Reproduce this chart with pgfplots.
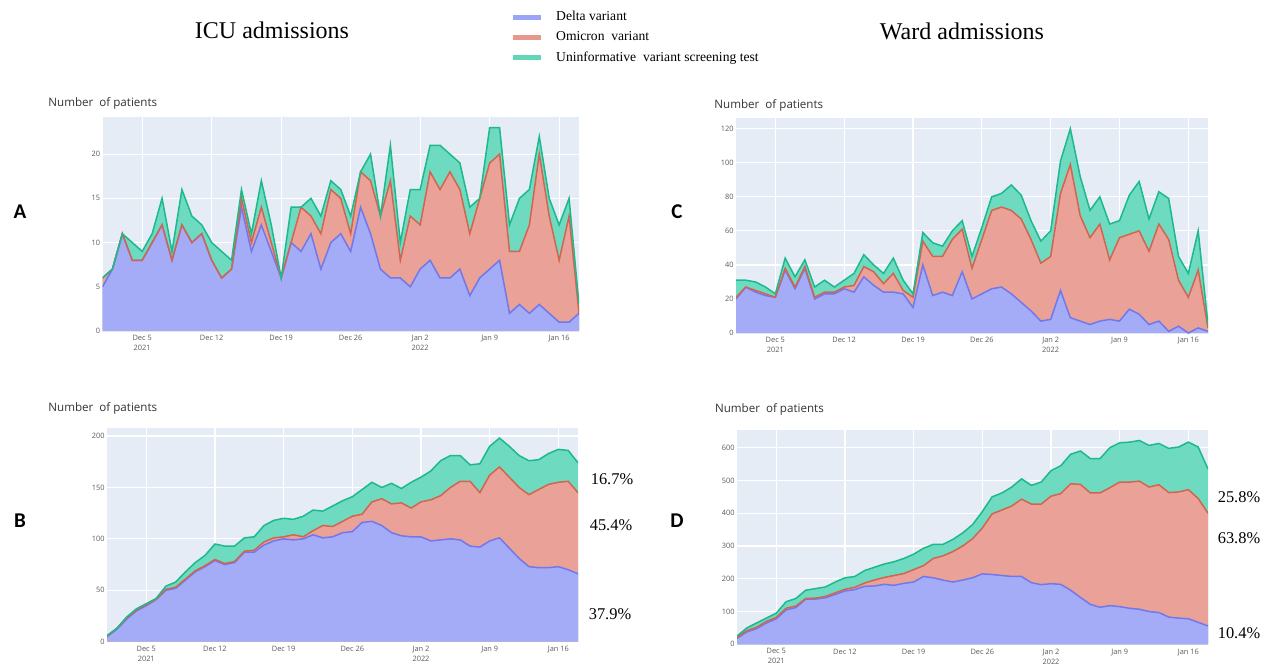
\documentclass[border=0pt]{standalone}
\usepackage{fontspec}
\setmainfont{Liberation Serif}
\newfontfamily\plotly{Open Sans}
\newfontfamily\letterfont{Carlito}
\usepackage{pgfplots}
\pgfplotsset{compat=1.18}
\usepackage{pgfplotstable}

\definecolor{plotbg}{HTML}{E5ECF6}
\definecolor{dfill}{HTML}{A4ACF7}
\definecolor{ofill}{HTML}{EAA197}
\definecolor{ufill}{HTML}{6EDBC0}
\definecolor{dline}{HTML}{7078EC}
\definecolor{oline}{HTML}{D3644F}
\definecolor{uline}{HTML}{1BB98C}
\definecolor{ticktext}{HTML}{5A5A5A}
\definecolor{titletext}{HTML}{333333}

% columns: day index (0 = Dec 1, 2021), Delta, Delta+Omicron, total
\pgfplotstableread{
d D DO T
0 5 6 6
1 7 7 7
2 11 11 11
3 8 8 10
4 8 8 9
5 10 10 11
6 12 12 15
7 8 8 9
8 12 12 16
9 10 10 13
10 11 11 12
11 8 8 10
12 6 6 9
13 7 7 8
14 14 15 16
15 9 10 11
16 12 14 17
17 9 10 12
18 6 6 6
19 10 10 14
20 9 14 14
21 11 13 15
22 7 11 13
23 10 16 17
24 11 15 16
25 9 11 13
26 14 18 18
27 11 17 20
28 7 13 13
29 6 17 21
30 6 8 10
31 5 13 16
32 7 12 16
33 8 18 21
34 6 16 21
35 6 18 20
36 7 16 19
37 4 11 14
38 6 15 15
39 7 19 23
40 8 20 23
41 2 9 12
42 3 9 15
43 2 12 16
44 3 20 22
45 2 13 15
46 1 8 12
47 1 13 15
48 2 2 3
}\tabA

\pgfplotstableread{
d D DO T
0 20 21 31
1 27 27 31
2 24 25 30
3 22 23 27
4 21 21 23
5 37 38 44
6 26 27 33
7 38 39 43
8 20 21 27
9 23 24 31
10 23 24 27
11 26 27 31
12 24 28 35
13 33 39 46
14 28 36 40
15 24 29 35
16 24 35 44
17 23 25 31
18 15 21 23
19 40 54 59
20 22 45 53
21 24 45 51
22 22 55 60
23 36 61 66
24 20 38 45
25 23 55 62
26 26 72 80
27 27 74 82
28 23 72 87
29 18 67 81
30 13 55 66
31 7 41 54
32 8 45 60
33 25 82 101
34 9 99 120
35 7 69 92
36 5 56 72
37 7 64 80
38 8 43 64
39 7 56 66
40 14 58 81
41 11 60 89
42 5 48 67
43 7 64 83
44 1 55 79
45 4 31 45
46 0 21 35
47 3 37 60
48 1 3 5
}\tabC

\pgfplotstableread{
d D DO T
0 5 5 6
1 12 13 13
2 22 23 24
3 30 31 32
4 35 36 37
5 41 41 42
6 50 51 54
7 52 53 58
8 60 61 68
9 68 69 77
10 73 74 84
11 79 80 95
12 75 76 93
13 77 78 93
14 87 88 101
15 87 89 102
16 94 97 113
17 98 101 118
18 100 102 120
19 99 104 119
20 100 102 122
21 104 108 128
22 101 113 127
23 102 112 132
24 106 117 137
25 107 122 141
26 116 124 148
27 117 136 155
28 113 139 150
29 106 134 154
30 103 135 149
31 102 130 155
32 102 136 160
33 98 138 166
34 99 142 176
35 100 150 181
36 99 156 181
37 93 156 172
38 92 145 173
39 98 162 190
40 101 170 198
41 91 160 190
42 81 150 181
43 73 143 176
44 72 148 177
45 72 153 183
46 73 155 187
47 70 156 186
48 66 145 174
}\tabB

\pgfplotstableread{
d D DO T
0 18 20 25
1 38 42 50
2 48 52 65
3 65 70 80
4 78 82 95
5 105 110 130
6 112 117 140
7 138 140 165
8 138 141 170
9 142 146 175
10 152 157 190
11 163 168 203
12 167 174 207
13 177 187 225
14 178 196 235
15 183 204 245
16 180 210 252
17 186 216 262
18 190 228 275
19 207 240 293
20 203 262 305
21 196 270 305
22 190 283 320
23 196 300 340
24 203 322 365
25 215 355 405
26 213 398 450
27 210 410 462
28 207 422 480
29 207 443 505
30 188 428 485
31 182 428 495
32 185 452 530
33 183 460 545
34 165 490 580
35 143 488 590
36 122 462 567
37 113 462 567
38 118 478 600
39 115 495 615
40 110 495 617
41 107 498 622
42 100 480 607
43 97 487 613
44 83 463 598
45 80 465 602
46 78 472 617
47 67 445 602
48 56 400 535
}\tabD

\pgfplotsset{
  panel/.style={
    scale only axis, anchor=north west,
    xmin=0, xmax=48, ymin=0,
    axis background/.style={fill=plotbg},
    axis line style={draw=none},
    major tick length=0pt,
    grid=major,
    grid style={white, line width=0.6pt},
    xtick={4,11,18,25,32,39,46},
    xticklabels={{Dec 5\\2021},{Dec 12},{Dec 19},{Dec 26},{Jan 2\\2022},{Jan 9},{Jan 16}},
    xticklabel style={align=center, font=\plotly\fontsize{3.7}{5}\selectfont, text=ticktext, inner sep=1pt, yshift=-1pt},
    yticklabel style={font=\plotly\fontsize{3.7}{5}\selectfont, text=ticktext, inner sep=1pt},
    /pgf/number format/assume math mode=true,
  },
}

\newcommand\stackarea[1]{%
  \addplot[fill=ufill, draw=none, forget plot] table[x=d,y=T]{#1} \closedcycle;
  \addplot[fill=ofill, draw=none, forget plot] table[x=d,y=DO]{#1} \closedcycle;
  \addplot[fill=dfill, draw=none, forget plot] table[x=d,y=D]{#1} \closedcycle;
  \addplot[dline, line width=0.75pt, forget plot] table[x=d,y=D]{#1};
  \addplot[oline, line width=0.75pt, forget plot] table[x=d,y=DO]{#1};
  \addplot[uline, line width=0.75pt, forget plot] table[x=d,y=T]{#1};
}

\begin{document}
\begin{tikzpicture}
\useasboundingbox (0pt,0pt) rectangle (639pt,-333pt);

% Panel A
\begin{axis}[panel, at={(51.25pt,-58.5pt)}, width=238.25pt, height=107pt,
  ymax=24.2, ytick={0,5,10,15,20},
  legend style={at={(axis description cs:0.8552,1.5065)}, anchor=north west,
    draw=none, fill=none, inner sep=0pt, row sep=2pt,
    font=\fontsize{6.8}{8}\selectfont,
    nodes={inner sep=1pt, anchor=west}},
  legend cell align=left,
  legend image code/.code={\draw[#1] (0pt,0pt) -- (14pt,0pt);},
  /tikz/every odd column/.append style={column sep=5.5pt},
]
\stackarea{\tabA}
\addlegendimage{line width=2.4pt, color=dfill!85!dline}
\addlegendentry{Delta variant}
\addlegendimage{line width=2.4pt, color=ofill!85!oline}
\addlegendentry{Omicron\ \ variant}
\addlegendimage{line width=2.4pt, color=ufill!85!uline}
\addlegendentry{Uninformative\ \ variant screening test}
\end{axis}

% Panel C
\begin{axis}[panel, at={(368pt,-59pt)}, width=236pt, height=107.5pt,
  ymax=126.3, ytick={0,20,40,60,80,100,120}]
\stackarea{\tabC}
\end{axis}

% Panel B
\begin{axis}[panel, at={(53.5pt,-214.15pt)}, width=235.5pt, height=106.7pt,
  ymax=207.5, ytick={0,50,100,150,200}]
\stackarea{\tabB}
\end{axis}

% Panel D
\begin{axis}[panel, at={(368.5pt,-215pt)}, width=235.5pt, height=107.15pt,
  ymax=654, ytick={0,100,200,300,400,500,600}]
\stackarea{\tabD}
\end{axis}

% Titles
\node[font=\fontsize{12}{14}\selectfont] at (136pt,-15pt) {ICU admissions};
\node[font=\fontsize{12}{14}\selectfont] at (481pt,-15.5pt) {Ward admissions};

% Panel letters
\node[font=\letterfont\bfseries\fontsize{10.5}{12}\selectfont] at (10pt,-106pt) {A};
\node[font=\letterfont\bfseries\fontsize{10.5}{12}\selectfont] at (338.5pt,-106pt) {C};
\node[font=\letterfont\bfseries\fontsize{10.5}{12}\selectfont] at (10pt,-260.5pt) {B};
\node[font=\letterfont\bfseries\fontsize{10.5}{12}\selectfont] at (338.5pt,-260.5pt) {D};

% Axis titles
\node[anchor=west, inner sep=0pt, text=titletext, font=\plotly\fontsize{5.8}{7}\selectfont] at (24pt,-51.5pt) {Number\ \ of patients};
\node[anchor=west, inner sep=0pt, text=titletext, font=\plotly\fontsize{5.8}{7}\selectfont] at (357pt,-52.5pt) {Number\ \ of patients};
\node[anchor=west, inner sep=0pt, text=titletext, font=\plotly\fontsize{5.8}{7}\selectfont] at (24pt,-204pt) {Number\ \ of patients};
\node[anchor=west, inner sep=0pt, text=titletext, font=\plotly\fontsize{5.8}{7}\selectfont] at (357.3pt,-204.5pt) {Number\ \ of patients};

% Share labels
\node[font=\fontsize{8.2}{10}\selectfont] at (306pt,-239.5pt) {16.7\%};
\node[font=\fontsize{8.2}{10}\selectfont] at (305.5pt,-262.5pt) {45.4\%};
\node[font=\fontsize{8.2}{10}\selectfont] at (305pt,-307pt) {37.9\%};
\node[font=\fontsize{8.2}{10}\selectfont] at (619.5pt,-248.5pt) {25.8\%};
\node[font=\fontsize{8.2}{10}\selectfont] at (619.5pt,-269pt) {63.8\%};
\node[font=\fontsize{8.2}{10}\selectfont] at (619.5pt,-316.5pt) {10.4\%};
\end{tikzpicture}
\end{document}
